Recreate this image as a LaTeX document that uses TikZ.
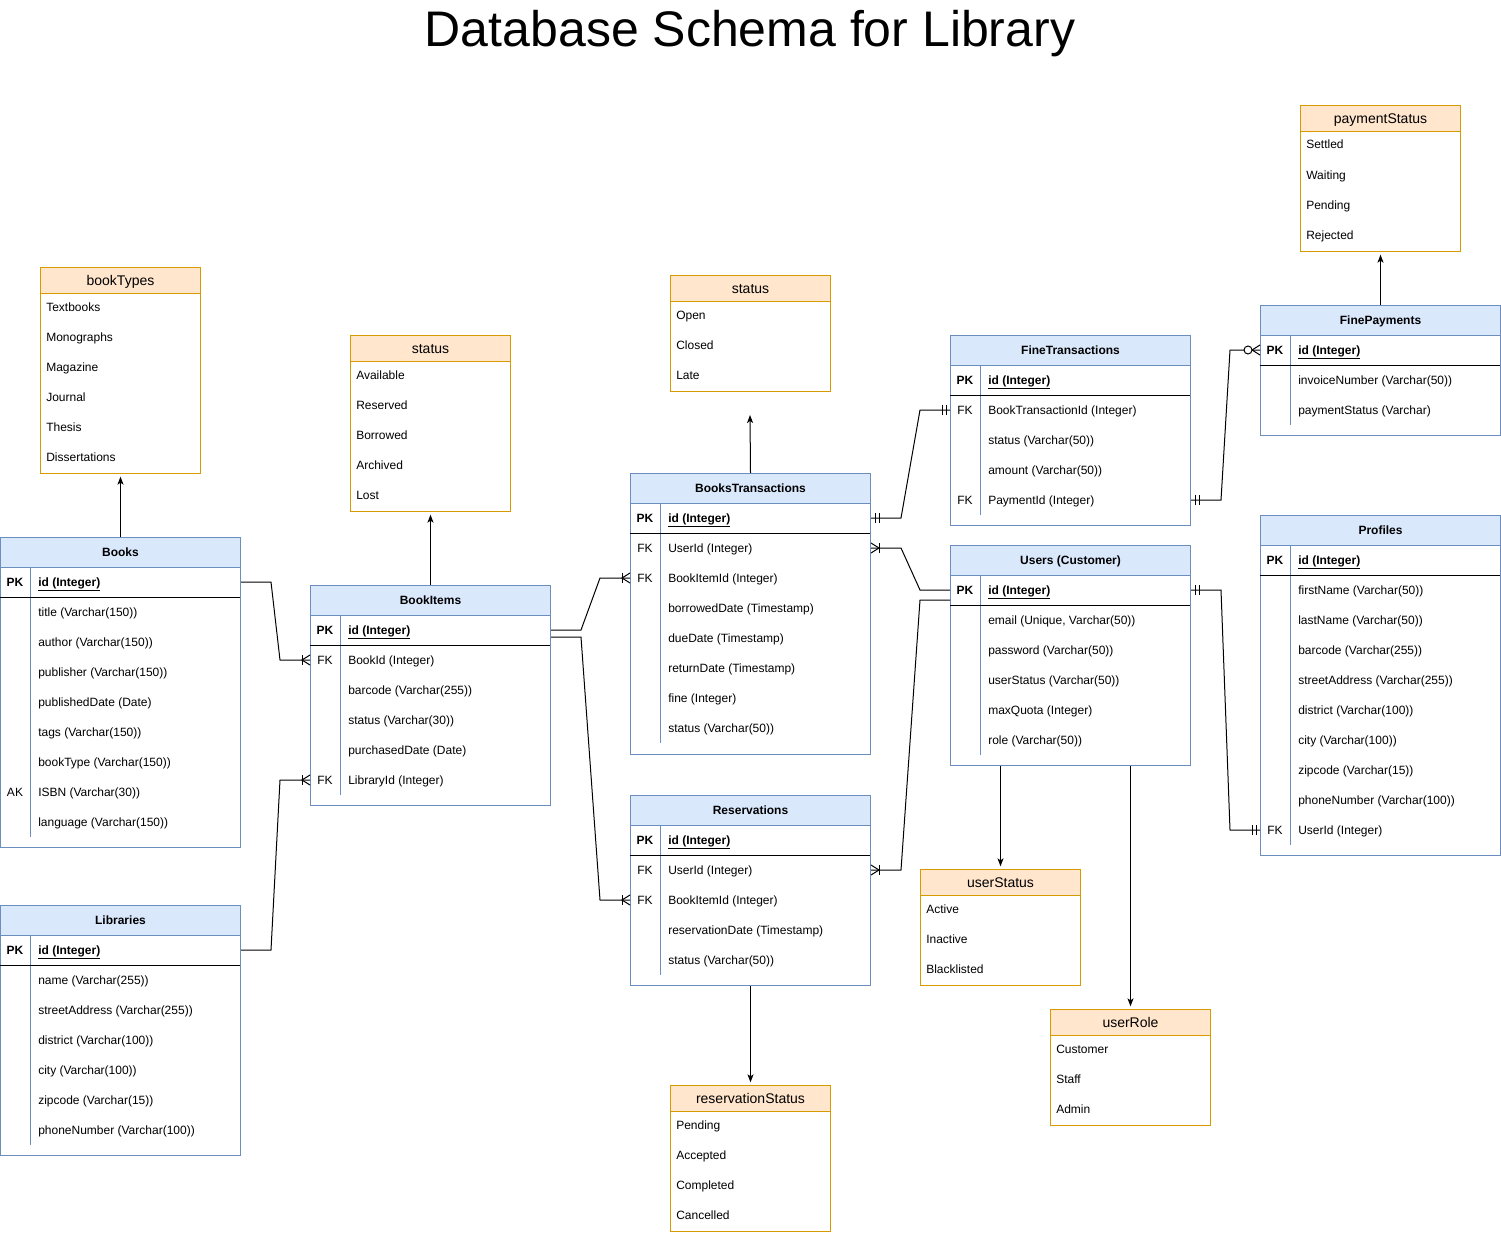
\documentclass[tikz,border=0pt]{standalone}
\usepackage{fontspec}
\setmainfont{Liberation Sans}
\usetikzlibrary{arrows.meta,calc}
\definecolor{erblue}{HTML}{6C8EBF}
\definecolor{erfill}{HTML}{DAE8FC}
\definecolor{lsline}{HTML}{D79B00}
\definecolor{lsfill}{HTML}{FFE6CC}
\tikzset{
  erline/.style={line width=0.75pt},
  erbody/.style={draw=erblue, line width=0.75pt, minimum width=180pt, anchor=north west, inner sep=0pt},
  erhead/.style={draw=erblue, fill=erfill, line width=0.75pt, minimum width=180pt, minimum height=22.5pt, anchor=north west, inner sep=0pt, text height=7pt, text depth=1pt, font=\bfseries\fontsize{9}{11}\selectfont},
  lsbody/.style={draw=lsline, line width=0.75pt, minimum width=120pt, anchor=north west, inner sep=0pt},
  lshead/.style={draw=lsline, fill=lsfill, line width=0.75pt, minimum width=120pt, minimum height=19.5pt, anchor=north west, inner sep=0pt, text height=8pt, text depth=1.2pt, font=\fontsize{10.5}{12}\selectfont},
  keysep/.style={draw=erblue, line width=0.75pt},
  pksep/.style={draw=black, line width=0.75pt},
  cell/.style={inner sep=0pt, text height=7pt, text depth=1pt, font=\fontsize{9}{11}\selectfont},
  keytext/.style={cell},
  fieldtext/.style={cell, anchor=west},
  pkkey/.style={cell, font=\bfseries\fontsize{9}{11}\selectfont},
  pkfield/.style={fieldtext, font=\bfseries\fontsize{9}{11}\selectfont},
  itemtext/.style={cell, anchor=west},
  toarrow/.style={erline, -{Stealth[length=6pt,width=4.5pt,inset=1.5pt]}, shorten >=2pt},
  onemany/.pic={\draw[erline] (0,-5) -- (-8,0) -- (0,5); \draw[erline] (-8,-5) -- (-8,5);},
  mandone/.pic={\draw[erline] (-4,-5) -- (-4,5) (-8,-5) -- (-8,5);},
  zeromany/.pic={\draw[erline] (0,-5) -- (-8,0) -- (0,5); \draw[erline,fill=white] (-12,0) circle[radius=4];},
}
\begin{document}
\begin{tikzpicture}[x=0.75pt,y=-0.75pt]
  \useasboundingbox (0,0) rectangle (1501,1234);%
  \node[font=\fontsize{37.5}{42}\selectfont, inner sep=0pt] (title) at (750,34) {Database Schema for Library};%

  % Books
  \node[erbody, minimum height=232.5pt] (books) at (0,537) {};%
  \node[erhead] (books-h) at (0,537) {Books};%
  \draw[keysep] (30,567) -- (30,837);%
  \draw[pksep] (0,597) -- (240,597);%
  \node[pkkey] (books-pk) at (15,582) {PK};%
  \node[pkfield] (books-id) at (38,582) {\underline{id (Integer)}};%
  \node[fieldtext] (books-title) at (38,612) {title (Varchar(150))};%
  \node[fieldtext] (books-author) at (38,642) {author (Varchar(150))};%
  \node[fieldtext] (books-publisher) at (38,672) {publisher (Varchar(150))};%
  \node[fieldtext] (books-date) at (38,702) {publishedDate (Date)};%
  \node[fieldtext] (books-tags) at (38,732) {tags (Varchar(150))};%
  \node[fieldtext] (books-type) at (38,762) {bookType (Varchar(150))};%
  \node[keytext] (books-ak) at (15,792) {AK};%
  \node[fieldtext] (books-isbn) at (38,792) {ISBN (Varchar(30))};%
  \node[fieldtext] (books-lang) at (38,822) {language (Varchar(150))};%

  % Libraries
  \node[erbody, minimum height=187.5pt] (libraries) at (0,905) {};%
  \node[erhead] (libraries-h) at (0,905) {Libraries};%
  \draw[keysep] (30,935) -- (30,1145);%
  \draw[pksep] (0,965) -- (240,965);%
  \node[pkkey] (libraries-pk) at (15,950) {PK};%
  \node[pkfield] (libraries-id) at (38,950) {\underline{id (Integer)}};%
  \node[fieldtext] (libraries-name) at (38,980) {name (Varchar(255))};%
  \node[fieldtext] (libraries-street) at (38,1010) {streetAddress (Varchar(255))};%
  \node[fieldtext] (libraries-district) at (38,1040) {district (Varchar(100))};%
  \node[fieldtext] (libraries-city) at (38,1070) {city (Varchar(100))};%
  \node[fieldtext] (libraries-zip) at (38,1100) {zipcode (Varchar(15))};%
  \node[fieldtext] (libraries-phone) at (38,1130) {phoneNumber (Varchar(100))};%

  % BookItems
  \node[erbody, minimum height=165pt] (bookitems) at (310,585) {};%
  \node[erhead] (bookitems-h) at (310,585) {BookItems};%
  \draw[keysep] (340,615) -- (340,795);%
  \draw[pksep] (310,645) -- (550,645);%
  \node[pkkey] (bookitems-pk) at (325,630) {PK};%
  \node[pkfield] (bookitems-id) at (348,630) {\underline{id (Integer)}};%
  \node[keytext] (bookitems-fk1) at (325,660) {FK};%
  \node[fieldtext] (bookitems-bookid) at (348,660) {BookId (Integer)};%
  \node[fieldtext] (bookitems-barcode) at (348,690) {barcode (Varchar(255))};%
  \node[fieldtext] (bookitems-status) at (348,720) {status (Varchar(30))};%
  \node[fieldtext] (bookitems-date) at (348,750) {purchasedDate (Date)};%
  \node[keytext] (bookitems-fk2) at (325,780) {FK};%
  \node[fieldtext] (bookitems-libid) at (348,780) {LibraryId (Integer)};%

  % BooksTransactions
  \node[erbody, minimum height=210.75pt] (transactions) at (630,473) {};%
  \node[erhead] (transactions-h) at (630,473) {BooksTransactions};%
  \draw[keysep] (660,503) -- (660,743);%
  \draw[pksep] (630,533) -- (870,533);%
  \node[pkkey] (transactions-pk) at (645,518) {PK};%
  \node[pkfield] (transactions-id) at (668,518) {\underline{id (Integer)}};%
  \node[keytext] (transactions-fk1) at (645,548) {FK};%
  \node[fieldtext] (transactions-user) at (668,548) {UserId (Integer)};%
  \node[keytext] (transactions-fk2) at (645,578) {FK};%
  \node[fieldtext] (transactions-bookitem) at (668,578) {BookItemId (Integer)};%
  \node[fieldtext] (transactions-borrowed) at (668,608) {borrowedDate (Timestamp)};%
  \node[fieldtext] (transactions-due) at (668,638) {dueDate (Timestamp)};%
  \node[fieldtext] (transactions-return) at (668,668) {returnDate (Timestamp)};%
  \node[fieldtext] (transactions-fine) at (668,698) {fine (Integer)};%
  \node[fieldtext] (transactions-status) at (668,728) {status (Varchar(50))};%

  % Reservations
  \node[erbody, minimum height=142.5pt] (reservations) at (630,795) {};%
  \node[erhead] (reservations-h) at (630,795) {Reservations};%
  \draw[keysep] (660,825) -- (660,975);%
  \draw[pksep] (630,855) -- (870,855);%
  \node[pkkey] (reservations-pk) at (645,840) {PK};%
  \node[pkfield] (reservations-id) at (668,840) {\underline{id (Integer)}};%
  \node[keytext] (reservations-fk1) at (645,870) {FK};%
  \node[fieldtext] (reservations-user) at (668,870) {UserId (Integer)};%
  \node[keytext] (reservations-fk2) at (645,900) {FK};%
  \node[fieldtext] (reservations-bookitem) at (668,900) {BookItemId (Integer)};%
  \node[fieldtext] (reservations-date) at (668,930) {reservationDate (Timestamp)};%
  \node[fieldtext] (reservations-status) at (668,960) {status (Varchar(50))};%

  % FineTransactions
  \node[erbody, minimum height=142.5pt] (finetx) at (950,335) {};%
  \node[erhead] (finetx-h) at (950,335) {FineTransactions};%
  \draw[keysep] (980,365) -- (980,515);%
  \draw[pksep] (950,395) -- (1190,395);%
  \node[pkkey] (finetx-pk) at (965,380) {PK};%
  \node[pkfield] (finetx-id) at (988,380) {\underline{id (Integer)}};%
  \node[keytext] (finetx-fk1) at (965,410) {FK};%
  \node[fieldtext] (finetx-txid) at (988,410) {BookTransactionId (Integer)};%
  \node[fieldtext] (finetx-status) at (988,440) {status (Varchar(50))};%
  \node[fieldtext] (finetx-amount) at (988,470) {amount (Varchar(50))};%
  \node[keytext] (finetx-fk2) at (965,500) {FK};%
  \node[fieldtext] (finetx-payid) at (988,500) {PaymentId (Integer)};%

  % Users
  \node[erbody, minimum height=165pt] (users) at (950,545) {};%
  \node[erhead] (users-h) at (950,545) {Users (Customer)};%
  \draw[keysep] (980,575) -- (980,755);%
  \draw[pksep] (950,605) -- (1190,605);%
  \node[pkkey] (users-pk) at (965,590) {PK};%
  \node[pkfield] (users-id) at (988,590) {\underline{id (Integer)}};%
  \node[fieldtext] (users-email) at (988,620) {email (Unique, Varchar(50))};%
  \node[fieldtext] (users-password) at (988,650) {password (Varchar(50))};%
  \node[fieldtext] (users-status) at (988,680) {userStatus (Varchar(50))};%
  \node[fieldtext] (users-quota) at (988,710) {maxQuota (Integer)};%
  \node[fieldtext] (users-role) at (988,740) {role (Varchar(50))};%

  % FinePayments
  \node[erbody, minimum height=97.5pt] (finepay) at (1260,305) {};%
  \node[erhead] (finepay-h) at (1260,305) {FinePayments};%
  \draw[keysep] (1290,335) -- (1290,425);%
  \draw[pksep] (1260,365) -- (1500,365);%
  \node[pkkey] (finepay-pk) at (1275,350) {PK};%
  \node[pkfield] (finepay-id) at (1298,350) {\underline{id (Integer)}};%
  \node[fieldtext] (finepay-invoice) at (1298,380) {invoiceNumber (Varchar(50))};%
  \node[fieldtext] (finepay-status) at (1298,410) {paymentStatus (Varchar)};%

  % Profiles
  \node[erbody, minimum height=255pt] (profiles) at (1260,515) {};%
  \node[erhead] (profiles-h) at (1260,515) {Profiles};%
  \draw[keysep] (1290,545) -- (1290,845);%
  \draw[pksep] (1260,575) -- (1500,575);%
  \node[pkkey] (profiles-pk) at (1275,560) {PK};%
  \node[pkfield] (profiles-id) at (1298,560) {\underline{id (Integer)}};%
  \node[fieldtext] (profiles-first) at (1298,590) {firstName (Varchar(50))};%
  \node[fieldtext] (profiles-last) at (1298,620) {lastName (Varchar(50))};%
  \node[fieldtext] (profiles-barcode) at (1298,650) {barcode (Varchar(255))};%
  \node[fieldtext] (profiles-street) at (1298,680) {streetAddress (Varchar(255))};%
  \node[fieldtext] (profiles-district) at (1298,710) {district (Varchar(100))};%
  \node[fieldtext] (profiles-city) at (1298,740) {city (Varchar(100))};%
  \node[fieldtext] (profiles-zip) at (1298,770) {zipcode (Varchar(15))};%
  \node[fieldtext] (profiles-phone) at (1298,800) {phoneNumber (Varchar(100))};%
  \node[keytext] (profiles-fk) at (1275,830) {FK};%
  \node[fieldtext] (profiles-user) at (1298,830) {UserId (Integer)};%

  % value lists
  \node[lsbody, minimum height=154.5pt] (booktypes) at (40,267) {};%
  \node[lshead] (booktypes-h) at (40,267) {bookTypes};%
  \node[itemtext] (booktypes-1) at (46,307) {Textbooks};%
  \node[itemtext] (booktypes-2) at (46,337) {Monographs};%
  \node[itemtext] (booktypes-3) at (46,367) {Magazine};%
  \node[itemtext] (booktypes-4) at (46,397) {Journal};%
  \node[itemtext] (booktypes-5) at (46,427) {Thesis};%
  \node[itemtext] (booktypes-6) at (46,457) {Dissertations};%

  \node[lsbody, minimum height=132pt] (itemstatus) at (350,335) {};%
  \node[lshead] (itemstatus-h) at (350,335) {status};%
  \node[itemtext] (itemstatus-1) at (356,375) {Available};%
  \node[itemtext] (itemstatus-2) at (356,405) {Reserved};%
  \node[itemtext] (itemstatus-3) at (356,435) {Borrowed};%
  \node[itemtext] (itemstatus-4) at (356,465) {Archived};%
  \node[itemtext] (itemstatus-5) at (356,495) {Lost};%

  \node[lsbody, minimum height=87pt] (txstatus) at (670,275) {};%
  \node[lshead] (txstatus-h) at (670,275) {status};%
  \node[itemtext] (txstatus-1) at (676,315) {Open};%
  \node[itemtext] (txstatus-2) at (676,345) {Closed};%
  \node[itemtext] (txstatus-3) at (676,375) {Late};%

  \node[lsbody, minimum height=109.5pt] (paystatus) at (1300,105) {};%
  \node[lshead] (paystatus-h) at (1300,105) {paymentStatus};%
  \node[itemtext] (paystatus-1) at (1306,145) {Settled};%
  \node[itemtext] (paystatus-2) at (1306,175) {Waiting};%
  \node[itemtext] (paystatus-3) at (1306,205) {Pending};%
  \node[itemtext] (paystatus-4) at (1306,235) {Rejected};%

  \node[lsbody, minimum height=87pt] (userstatus) at (920,869) {};%
  \node[lshead] (userstatus-h) at (920,869) {userStatus};%
  \node[itemtext] (userstatus-1) at (926,909) {Active};%
  \node[itemtext] (userstatus-2) at (926,939) {Inactive};%
  \node[itemtext] (userstatus-3) at (926,969) {Blacklisted};%

  \node[lsbody, minimum height=87pt] (userrole) at (1050,1009) {};%
  \node[lshead] (userrole-h) at (1050,1009) {userRole};%
  \node[itemtext] (userrole-1) at (1056,1049) {Customer};%
  \node[itemtext] (userrole-2) at (1056,1079) {Staff};%
  \node[itemtext] (userrole-3) at (1056,1109) {Admin};%

  \node[lsbody, minimum height=109.5pt] (resstatus) at (670,1085) {};%
  \node[lshead] (resstatus-h) at (670,1085) {reservationStatus};%
  \node[itemtext] (resstatus-1) at (676,1125) {Pending};%
  \node[itemtext] (resstatus-2) at (676,1155) {Accepted};%
  \node[itemtext] (resstatus-3) at (676,1185) {Completed};%
  \node[itemtext] (resstatus-4) at (676,1215) {Cancelled};%

  % arrows to value lists
  \coordinate (txstatus-tip) at (750,415);%
  \draw[toarrow] (books.north) -- (booktypes.south);%
  \draw[toarrow] (bookitems.north) -- (itemstatus.south);%
  \draw[toarrow, shorten >=0pt] (transactions.north) -- (txstatus-tip);%
  \draw[toarrow] (finepay.north) -- (paystatus.south);%
  \draw[toarrow] (userstatus.north |- users.south) -- (userstatus.north);%
  \draw[toarrow] (userrole.north |- users.south) -- (userrole.north);%
  \draw[toarrow] (reservations.south) -- (resstatus.north);%

  % relations
  \draw[erline] (books.east |- books-id) -- ++(30,0) -- ($(bookitems.west |- bookitems-bookid)+(-30,0)$) -- (bookitems.west |- bookitems-bookid);%
  \pic at (bookitems.west |- bookitems-bookid) {onemany};%

  \draw[erline] (libraries.east |- libraries-id) -- ++(30,0) -- ($(bookitems.west |- bookitems-libid)+(-30,0)$) -- (bookitems.west |- bookitems-libid);%
  \pic at (bookitems.west |- bookitems-libid) {onemany};%

  \draw[erline] (bookitems.east |- bookitems-id) -- ++(30,0) -- ($(transactions.west |- transactions-bookitem)+(-30,0)$) -- (transactions.west |- transactions-bookitem);%
  \pic at (transactions.west |- transactions-bookitem) {onemany};%

  \draw[erline] ($(bookitems.east |- bookitems-id)+(0,7)$) -- ++(30,0) -- ($(reservations.west |- reservations-bookitem)+(-30,0)$) -- (reservations.west |- reservations-bookitem);%
  \pic at (reservations.west |- reservations-bookitem) {onemany};%

  \draw[erline] (transactions.east |- transactions-id) -- ++(30,0) -- ($(finetx.west |- finetx-txid)+(-30,0)$) -- (finetx.west |- finetx-txid);%
  \pic[xscale=-1] at (transactions.east |- transactions-id) {mandone};%
  \pic at (finetx.west |- finetx-txid) {mandone};%

  \draw[erline] (transactions.east |- transactions-user) -- ++(30,0) -- ($(users.west |- users-id)+(-30,0)$) -- (users.west |- users-id);%
  \pic[xscale=-1] at (transactions.east |- transactions-user) {onemany};%

  \draw[erline] (reservations.east |- reservations-user) -- ++(30,0) -- ($(users.west |- users-id)+(-30,10)$) -- ($(users.west |- users-id)+(0,10)$);%
  \pic[xscale=-1] at (reservations.east |- reservations-user) {onemany};%

  \draw[erline] (finetx.east |- finetx-payid) -- ++(30,0) -- ($(finepay.west |- finepay-id)+(-30,0)$) -- (finepay.west |- finepay-id);%
  \pic[xscale=-1] at (finetx.east |- finetx-payid) {mandone};%
  \pic at (finepay.west |- finepay-id) {zeromany};%

  \draw[erline] (users.east |- users-id) -- ++(30,0) -- ($(profiles.west |- profiles-user)+(-30,0)$) -- (profiles.west |- profiles-user);%
  \pic[xscale=-1] at (users.east |- users-id) {mandone};%
  \pic at (profiles.west |- profiles-user) {mandone};%
\end{tikzpicture}
\end{document}
